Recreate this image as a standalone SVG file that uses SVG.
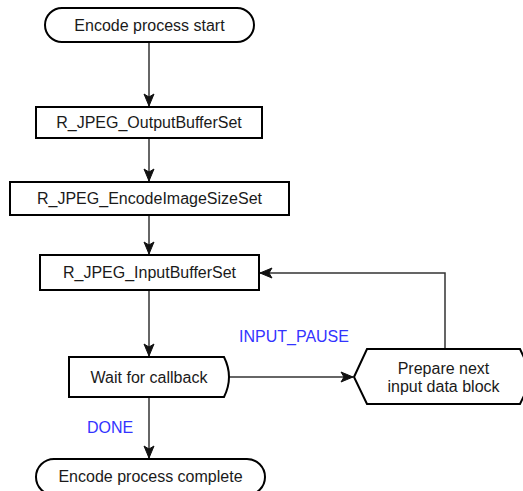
<svg xmlns="http://www.w3.org/2000/svg" width="523" height="491" viewBox="0 0 523 491">
<defs>
<style>
.node{fill:#fff;stroke:#000;stroke-width:2}
.t{font-family:"Liberation Sans",Arial,sans-serif;font-size:16px;fill:#1a1a1a;text-anchor:middle}
.lbl{font-family:"Liberation Sans",Arial,sans-serif;font-size:16px;fill:#3333ff}
.edge{fill:none;stroke:#333;stroke-width:1.5}
</style>
<marker id="arr" markerUnits="userSpaceOnUse" markerWidth="14" markerHeight="12" viewBox="0 0 14 12" refX="13" refY="6" orient="auto">
<path d="M1,1 L13,6 L1,11 L4,6 Z" fill="#111" stroke="#111" stroke-width="1"/>
</marker>
</defs>
<rect width="523" height="491" fill="#fff"/>
<g id="connectors">
<path class="edge" d="M149,42 V106" marker-end="url(#arr)"/>
<path class="edge" d="M149,138 V181" marker-end="url(#arr)"/>
<path class="edge" d="M149,215 V254" marker-end="url(#arr)"/>
<path class="edge" d="M149,290 V356" marker-end="url(#arr)"/>
<path class="edge" d="M149,397 V458" marker-end="url(#arr)"/>
<path class="edge" d="M229,377 H353" marker-end="url(#arr)"/>
<path class="edge" d="M445,349 V273 H260" marker-end="url(#arr)"/>
<text class="lbl" x="239" y="342">INPUT_PAUSE</text>
<text class="lbl" x="87" y="433">DONE</text>
</g>
<g id="start">
<rect class="node" x="45" y="8" width="209" height="34" rx="17"/>
<text class="t" x="149.5" y="31">Encode process start</text>
</g>
<g id="outputBufferSet">
<rect class="node" x="36" y="107" width="226" height="31"/>
<text class="t" x="149" y="128">R_JPEG_OutputBufferSet</text>
</g>
<g id="encodeImageSizeSet">
<rect class="node" x="10" y="182" width="279" height="33"/>
<text class="t" x="149.5" y="204">R_JPEG_EncodeImageSizeSet</text>
</g>
<g id="inputBufferSet">
<rect class="node" x="40" y="255" width="219" height="35"/>
<text class="t" x="149.5" y="278">R_JPEG_InputBufferSet</text>
</g>
<g id="waitCallback">
<path class="node" d="M69,357 H224 Q234,377 224,397 H69 Z"/>
<text class="t" x="149" y="383">Wait for callback</text>
</g>
<g id="prepareNext">
<path class="node" d="M354,377 L367,349 H520 L533,377 L520,404 H367 Z"/>
<text class="t" x="443.5" y="374">Prepare next</text>
<text class="t" x="443.5" y="392">input data block</text>
</g>
<g id="complete">
<rect class="node" x="36" y="459" width="229" height="36" rx="18"/>
<text class="t" x="150.5" y="482">Encode process complete</text>
</g>
</svg>
